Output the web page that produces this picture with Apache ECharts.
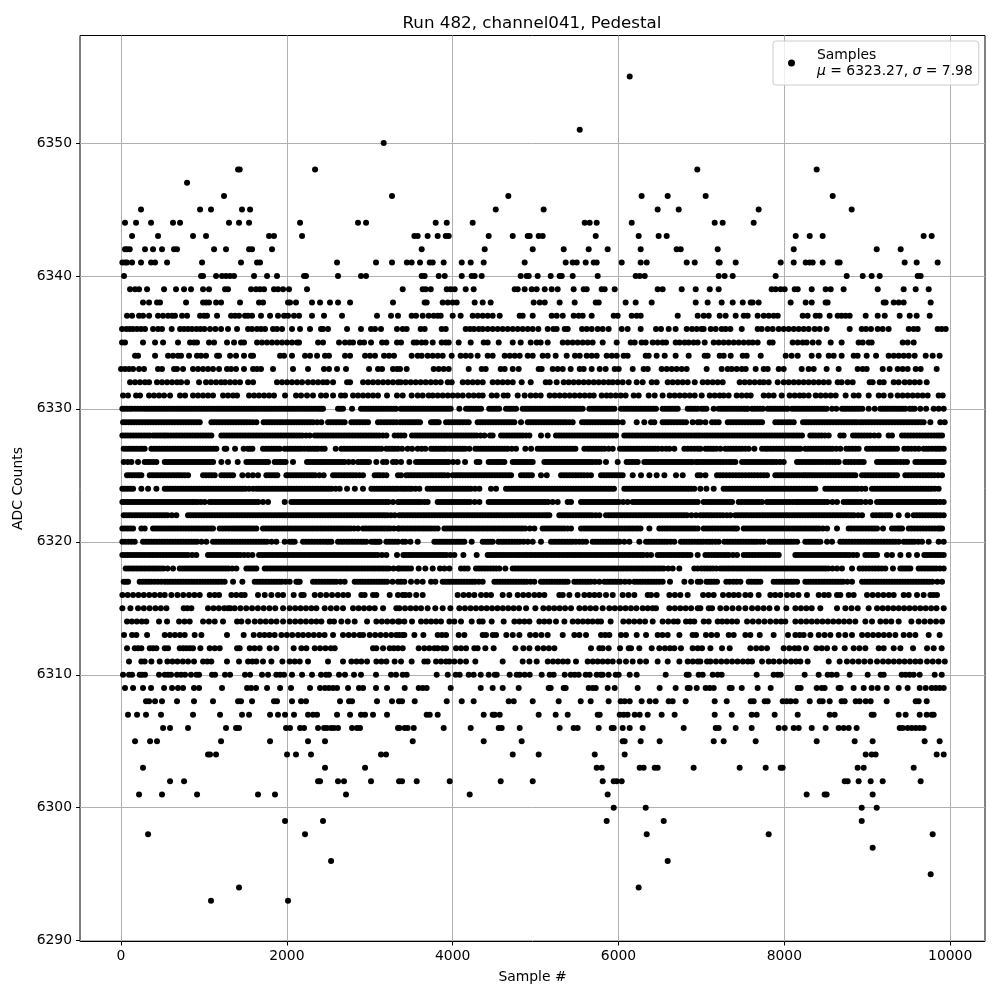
<!DOCTYPE html>
<html><head><meta charset="utf-8">
<style>html,body{margin:0;padding:0;background:#fff}#c{width:1000px;height:1000px}</style>
<script src="https://cdn.jsdelivr.net/npm/echarts@6/dist/echarts.min.js"></script>
</head><body><div id="c"></div>
<script>
const xTicks=[0,2000,4000,6000,8000,10000];
const yTicks=[6290,6300,6310,6320,6330,6340,6350];
const L6355=[6135];
const L6351=[5532];
const L6350=[3168];
const L6348=[1411,1431,2340,6950,8390];
const L6347=[796];
const L6346=[1242,3268,4671,6279,6593,7051,8583];
const L6345=[241,953,1085,1459,1556,4519,5097,6472,6726,7690,8812];
const L6344=[48,181,362,627,712,1302,1423,1544,2159,2858,2955,3795,3928,4241,5592,5652,5737,6159,7160,7256,7630];
const L6343=[133,446,868,1025,1785,1845,2183,3538,3578,3698,3819,3916,3952,4434,4724,4905,4929,5037,5085,5725,6243,6484,6581,8137,8306,8462,9680,9777];
const L6342=[48,72,105,289,386,494,639,675,1122,1266,1544,1580,1821,3626,4386,4965,5339,5640,5869,6267,6701,6750,7196,8113,9114,9403];
const L6341=[16,48,72,133,241,362,410,555,977,1447,1640,1676,2605,3075,3268,3447,3505,3606,3723,3759,3891,4109,4217,4374,4868,5363,5447,5496,5604,5701,5737,6038,6267,6340,6822,6919,7208,7220,7413,7956,8113,8257,8306,8342,8462,8643,8667,9451,9596,9849];
const L6340=[36,965,989,1146,1218,1266,1315,1363,1604,1761,1881,2207,2231,2617,2894,2955,3626,3662,3831,3904,4109,4229,4265,4350,4820,4892,4917,5025,5182,5290,5315,5447,5749,6207,6255,6316,7208,7280,7377,7895,8752,8945,9053,9150,9608,9644];
const L6339=[109,169,217,314,519,663,760,844,989,1061,1254,1290,1568,1628,1676,1725,1845,1893,1954,2026,2243,3397,3638,3674,3735,3928,3976,4024,4157,4253,4748,4784,4868,4953,5013,5110,5194,5266,5459,5580,5616,5797,5833,5954,6472,6532,6762,6931,7100,7208,7847,7895,7956,8004,8125,8161,8330,8498,8559,8715,9126,9439,9584,9741];
const L6338=[265,338,434,470,784,989,1025,1061,1146,1206,1435,1664,1713,2014,2038,2110,2303,2400,2520,2617,2762,3280,3662,3686,3879,3940,4000,4048,4265,4362,4458,4977,5049,5110,5290,5471,5725,5761,6086,6207,6400,6931,7075,7244,7377,7498,7594,7618,7690,8076,8257,8330,8498,8522,9198,9222,9319,9379,9439,9765];
const L6337=[72,133,217,265,338,446,507,567,615,651,736,796,953,1001,1037,1158,1327,1375,1423,1495,1532,1580,1688,1797,1893,1966,2014,2086,2147,2303,2448,2665,3087,3256,3340,3505,3558,3638,3710,3771,3819,3855,4000,4096,4241,4301,4362,4422,4482,4567,4808,4844,4965,5194,5254,5327,5459,5519,5568,5676,5942,5990,6159,6219,6267,6714,6955,7027,7088,7220,7292,7413,7510,7558,7678,7751,7811,7871,7920,8221,8281,8378,8426,8546,8643,8691,8739,8788,8981,9126,9211,9391,9512,9596,9753];
const L6336=[12,64,105,145,193,241,289,386,446,494,611,712,760,808,856,909,957,1005,1073,1138,1206,1290,1399,1532,1580,1640,1688,1737,1833,1881,1942,2062,2159,2279,2412,2436,2496,2726,2894,3015,3063,3135,3328,3397,3445,3614,3662,3867,3916,4157,4209,4257,4314,4362,4422,4482,4543,4603,4663,4724,4784,4844,4905,4965,5033,5146,5214,5254,5351,5387,5560,5616,5676,5749,5809,5881,6038,6110,6267,6452,6512,6605,6689,6822,6886,6943,7000,7027,7112,7172,7244,7292,7349,7486,7678,7727,7799,7859,7932,7992,8052,8113,8173,8233,8293,8366,8426,8510,8788,8933,8985,9045,9126,9186,9258,9500,9560,9608,9849,9897,9946];
const L6335=[12,48,265,410,507,687,832,880,916,1061,1122,1278,1363,1447,1483,1640,1700,1761,1821,1881,1942,2002,2062,2123,2147,2376,2436,2629,2701,2758,2798,2882,2931,3015,3148,3200,3328,3377,3530,3566,3626,3674,3759,3867,3916,3952,4072,4217,4374,4422,4555,4724,4820,4941,5013,5061,5146,5327,5387,5447,5507,5568,5628,5688,5809,5978,6147,6195,6279,6328,6412,6472,6532,6573,6689,6738,6798,6846,6906,6955,7039,7148,7208,7268,7328,7389,7449,7510,7570,7618,7678,7823,7859,8100,8161,8221,8269,8342,8414,8559,8691,8896,8945,9017,9053,9427,9487,9560];
const L6334=[169,205,410,567,627,687,724,820,916,965,1025,1158,1182,1315,1387,1483,1568,1592,1918,1966,2062,2219,2279,2364,2460,2508,2701,2762,2943,3003,3063,3172,3232,3292,3505,3578,3626,3698,3759,3819,3879,3988,4096,4157,4217,4301,4422,4482,4627,4687,4748,4808,4905,4965,5085,5146,5242,5375,5475,5532,5616,5676,5737,5857,5918,5978,6062,6110,6328,6364,6460,6557,6689,6846,7039,7075,7220,7268,7353,7498,7546,7715,8016,8088,8161,8330,8414,8535,8595,8691,8836,8884,8993,9106,9258,9319,9379,9439,9500,9572,9705,9789,9873];
const L6333=[0,48,97,145,217,277,446,494,639,675,748,868,928,989,1049,1109,1182,1278,1327,1387,1483,1592,1640,1688,1833,2074,2255,2448,2508,2605,2713,2991,3099,3148,3280,3328,3365,3445,3771,3831,3891,3952,4193,4350,4398,4579,4627,4724,4796,5037,5073,5206,5266,5327,5423,5532,5580,5676,5773,5845,5954,6002,6171,6303,6352,6520,6581,6641,6701,6762,6822,7063,7244,7316,7365,7425,7486,7534,7654,7751,7799,7932,7992,8209,8293,8354,8510,8655,8884,8945,8993,9186,9270,9367,9427,9487,9584,9644,9837];
const L6332=[109,169,229,289,338,434,494,555,615,675,724,796,941,1025,1085,1146,1206,1254,1315,1375,1435,1532,1592,1881,1942,2002,2062,2123,2183,2255,2315,2376,2436,2484,2557,2726,2762,2919,2979,3039,3099,3160,3220,3280,3340,3373,3433,3494,3554,3614,3674,3735,3795,3855,3940,3988,4121,4181,4241,4301,4362,4482,4543,4603,4663,4724,4832,4941,5122,5170,5254,5339,5399,5459,5519,5580,5640,5701,5761,5821,5881,5930,5990,6050,6123,6219,6291,6400,6460,6593,6653,6714,6774,6834,6919,7015,7075,7136,7196,7256,7461,7522,7582,7642,7703,7751,7811,7920,7992,8052,8113,8173,8233,8293,8354,8414,8474,8535,8643,8691,8763,8824,9029,9065,9150,9198,9319,9379,9451,9512,9572,9632,9717];
const L6331=[24,84,181,229,338,398,458,519,591,712,772,868,928,989,1049,1109,1230,1290,1351,1399,1544,1604,1664,1725,1785,1845,1978,2110,2171,2243,2315,2412,2472,2557,2653,2701,2798,2858,2919,2979,3039,3099,3208,3328,3397,3505,3578,3638,3710,3759,3819,3879,3940,4000,4060,4121,4193,4253,4314,4362,4470,4531,4615,4663,4784,4868,4941,5001,5061,5170,5230,5290,5351,5411,5471,5532,5592,5652,5701,5797,5857,5906,5966,6026,6086,6183,6243,6364,6436,6532,6617,6677,6738,6798,6858,6919,7003,7100,7160,7220,7268,7328,7425,7486,7546,7594,7751,7811,7871,7968,8064,8125,8185,8233,8293,8378,8438,8498,8559,8619,8739,8836,8896,9017,9138,9198,9282,9367,9427,9487,9548,9608,9668,9729,9861,9910];
const L6330=[16,72,133,205,277,338,398,458,519,579,639,700,760,820,881,941,1001,1061,1122,1182,1242,1302,1363,1423,1483,1544,1604,1664,1725,1785,1845,1906,1966,2026,2086,2147,2207,2267,2327,2388,2436,2617,2677,2786,2894,2955,3015,3075,3135,3196,3256,3316,3373,3433,3494,3554,3614,3674,3735,3795,3855,3916,3976,4080,4161,4221,4281,4342,4440,4500,4560,4643,4703,4764,4844,4905,4965,5025,5085,5146,5206,5266,5327,5387,5447,5507,5568,5648,5708,5769,5829,5889,5950,6030,6090,6151,6211,6271,6331,6392,6452,6532,6593,6653,6714,6834,6894,6955,7000,7060,7148,7208,7268,7328,7389,7449,7510,7558,7610,7670,7740,7799,7859,7920,7980,8040,8092,8152,8213,8273,8333,8394,8454,8510,8575,8627,8695,8755,8815,8875,8940,9017,9090,9158,9218,9278,9339,9399,9459,9512,9572,9640,9710,9801,9861,9922];
const L6329=[24,90,155,222,290,355,420,487,552,618,685,750,815,882,949,1090,1155,1222,1288,1352,1418,1485,1552,1632,1720,1788,1852,1920,1985,2050,2118,2182,2250,2315,2416,2497,2565,2630,2697,2778,2845,2912,2979,3099,3172,3245,3320,3367,3430,3490,3550,3606,3739,3785,3831,3920,3990,4058,4125,4193,4301,4365,4430,4493,4556,4620,4682,4744,4824,4905,4970,5035,5102,5168,5235,5300,5368,5447,5560,5625,5690,5755,5820,5885,5950,6050,6219,6311,6392,6432,6532,6600,6670,6742,6814,6894,6955,6987,7048,7128,7208,7317,7385,7455,7525,7595,7663,7731,7891,7965,8040,8113,8225,8290,8358,8422,8488,8552,8620,8685,8750,8815,8876,8916,8985,9055,9125,9195,9265,9335,9405,9472,9540,9610,9680,9761,9881,9934];
const L6328=[16,82,148,214,280,346,386,448,510,567,635,700,765,830,895,960,1025,1089,1210,1275,1340,1405,1470,1535,1600,1665,1730,1795,1860,1925,1990,2055,2120,2185,2275,2336,2400,2465,2530,2595,2660,2725,2790,2855,2920,2985,3050,3115,3200,3300,3340,3377,3417,3510,3575,3640,3705,3770,3835,3900,3965,4030,4095,4160,4225,4290,4382,4450,4482,4583,4650,4715,4780,4845,4925,5065,5146,5246,5310,5375,5440,5505,5570,5635,5700,5765,5830,5895,5970,6070,6135,6200,6265,6330,6395,6460,6525,6590,6655,6720,6785,6850,6915,6975,7040,7105,7170,7235,7300,7365,7430,7495,7560,7625,7690,7755,7820,7885,7950,8015,8080,8145,8213,8313,8380,8450,8535,8675,8715,8828,8895,8965,9035,9138,9258,9298,9419,9490,9560,9630,9700,9770,9840,9902];
const L6327=[32,96,160,225,285,366,430,495,560,625,690,755,820,885,950,1015,1080,1150,1250,1270,1375,1479,1530,1584,1712,1780,1848,1914,1974,2040,2105,2170,2250,2316,2376,2420,2456,2589,2657,2725,2795,2865,2935,3005,3072,3140,3200,3270,3340,3389,3457,3510,3578,3625,3670,3739,3800,3860,3920,3960,4025,4090,4150,4201,4273,4338,4403,4468,4533,4598,4663,4764,4876,4945,5025,5090,5155,5220,5285,5350,5415,5480,5588,5628,5695,5760,5830,5930,6018,6085,6150,6215,6280,6345,6410,6475,6573,6613,6673,6794,6875,6955,6987,7050,7115,7180,7228,7289,7355,7420,7490,7570,7638,7731,7800,7870,7940,8010,8080,8135,8193,8253,8320,8385,8450,8515,8580,8675,8747,8820,8896,8997,9070,9145,9215,9285,9359,9447,9530,9620,9680,9745,9821,9881,9922];
const L6326=[32,80,125,205,285,350,426,527,590,655,720,785,850,915,980,1045,1110,1210,1290,1407,1512,1578,1645,1710,1773,1853,1920,1985,2074,2243,2310,2376,2436,2500,2565,2630,2695,2798,2858,2925,2990,3079,3160,3200,3280,3320,3377,3477,3558,3625,3690,3755,3820,3885,3950,4060,4149,4289,4322,4434,4500,4560,4623,4724,4785,4845,4905,4965,5106,5170,5235,5300,5365,5430,5495,5560,5625,5690,5769,5849,5990,6098,6165,6231,6311,6375,6440,6505,6570,6635,6700,6765,6830,6894,6935,6955,6987,7055,7125,7195,7265,7340,7409,7490,7560,7625,7695,7765,7835,7905,7992,8153,8220,8290,8360,8430,8505,8580,8655,8736,8810,8885,8957,9118,9185,9255,9325,9400,9479,9580,9650,9720,9790,9860,9922];
const L6325=[72,130,190,245,346,410,475,540,605,670,735,808,989,1060,1130,1210,1280,1351,1463,1532,1590,1652,1753,1820,1885,1994,2014,2080,2145,2210,2275,2340,2444,2557,2625,2695,2765,2835,2918,3059,3125,3200,3340,3377,3440,3505,3570,3635,3700,3765,3835,3900,3940,4000,4060,4121,4185,4250,4315,4380,4445,4510,4575,4640,4704,4824,4890,4955,5065,5134,5307,5375,5445,5515,5585,5668,5789,5855,5920,5985,6050,6171,6271,6372,6460,6553,6693,6774,6955,6987,7048,7188,7260,7340,7415,7490,7570,7640,7715,7791,7891,7955,8020,8085,8150,8215,8273,8334,8400,8465,8530,8595,8660,8725,8790,8856,8937,9005,9075,9145,9215,9285,9359,9459,9530,9600,9670,9740,9810,9902];
const L6324=[16,80,145,245,326,426,527,590,655,720,785,850,915,980,1045,1110,1175,1240,1305,1370,1435,1500,1592,1632,1695,1760,1825,1890,1955,2020,2085,2150,2215,2280,2345,2410,2475,2540,2637,2726,2820,2918,3019,3085,3150,3215,3280,3340,3377,3440,3505,3598,3698,3765,3830,3895,3960,4025,4090,4155,4220,4322,4462,4523,4643,4710,4775,4840,4905,4970,5035,5100,5165,5230,5295,5360,5425,5490,5555,5620,5685,5750,5815,5880,5945,6070,6130,6195,6260,6325,6390,6455,6520,6585,6650,6715,6780,6845,6914,6987,7060,7148,7268,7335,7400,7465,7530,7595,7660,7725,7790,7855,7920,7985,8050,8115,8180,8245,8310,8374,8494,8560,8625,8690,8755,8820,8885,8977,9057,9125,9190,9255,9320,9385,9450,9515,9580,9645,9710,9775,9861];
const L6323=[16,80,145,210,275,340,405,470,535,600,665,730,795,860,925,1009,1069,1135,1200,1265,1330,1395,1460,1525,1590,1655,1773,1974,2054,2120,2185,2250,2315,2380,2445,2510,2575,2640,2705,2770,2835,2900,2965,3030,3095,3160,3225,3340,3357,3425,3490,3555,3620,3698,3819,3885,3950,4015,4080,4145,4210,4322,4434,4500,4565,4630,4695,4760,4825,4890,4955,5020,5085,5150,5266,5387,5427,5548,5615,5680,5745,5810,5875,5940,6005,6110,6171,6235,6300,6365,6430,6495,6560,6625,6690,6755,6820,6885,6955,7027,7095,7160,7230,7300,7369,7449,7520,7590,7660,7731,7791,7855,7920,7990,8060,8133,8193,8260,8325,8390,8455,8520,8635,8715,8785,8855,8925,9037,9118,9185,9250,9315,9380,9445,9510,9575,9640,9705,9770,9835,9922];
const L6322=[32,98,165,230,296,362,428,494,560,667,808,873,938,1003,1068,1133,1198,1263,1328,1393,1458,1523,1588,1653,1718,1783,1848,1913,1978,2043,2108,2173,2238,2303,2368,2433,2498,2563,2628,2693,2758,2823,2888,2953,3018,3083,3148,3213,3300,3357,3422,3487,3552,3617,3682,3747,3812,3877,3942,4007,4072,4137,4202,4267,4332,4397,4462,4527,4592,4657,4722,4787,4852,4917,4982,5047,5112,5166,5286,5352,5418,5484,5550,5616,5682,5769,5849,5915,5980,6045,6110,6175,6240,6305,6370,6435,6500,6565,6630,6695,6760,6825,6935,6987,7055,7120,7190,7260,7349,7409,7475,7540,7605,7670,7735,7800,7865,7930,7995,8060,8125,8190,8255,8320,8385,8450,8515,8580,8645,8710,8775,8840,8937,9070,9145,9218,9278,9379,9487,9560,9630,9700,9770,9840,9922];
const L6321=[16,80,145,245,285,386,452,518,584,650,716,782,848,914,980,1046,1109,1190,1260,1330,1391,1451,1510,1570,1632,1712,1778,1844,1910,1976,2042,2108,2174,2240,2306,2372,2438,2504,2570,2636,2702,2768,2858,2919,2985,3050,3115,3180,3245,3340,3357,3422,3487,3552,3617,3682,3747,3819,3900,3965,4030,4095,4160,4225,4290,4355,4420,4485,4550,4615,4680,4745,4810,4875,4985,5085,5150,5215,5280,5345,5427,5548,5615,5680,5745,5810,5875,5940,6005,6070,6135,6200,6265,6372,6492,6558,6624,6690,6756,6822,6888,6955,7027,7095,7165,7235,7305,7375,7429,7510,7575,7640,7705,7770,7835,7900,7965,8030,8095,8160,8225,8290,8355,8420,8515,8635,8776,8845,8915,8985,9055,9118,9190,9298,9365,9419,9500,9570,9640,9710,9780,9850,9902];
const L6320=[16,90,165,265,330,395,460,525,590,655,720,785,850,915,1029,1109,1175,1240,1305,1370,1435,1500,1565,1630,1695,1760,1873,1974,2034,2094,2195,2265,2335,2405,2475,2537,2617,2685,2755,2825,2895,2958,3019,3070,3119,3200,3270,3340,3397,3490,3578,3779,3840,3900,3960,4020,4080,4141,4229,4362,4422,4482,4551,4615,4680,4745,4810,4905,4965,5065,5186,5250,5315,5380,5445,5528,5568,5608,5688,5753,5818,5883,5948,6013,6131,6251,6332,6395,6460,6525,6590,6673,6753,6820,6885,6955,6987,7060,7130,7208,7277,7345,7410,7475,7540,7605,7670,7751,7820,7885,7950,8015,8080,8153,8253,8315,8375,8434,8515,8575,8675,8745,8815,8885,8955,9025,9095,9165,9235,9305,9379,9439,9505,9570,9660,9741,9861,9922];
const L6319=[16,82,148,214,280,346,412,478,544,610,676,742,808,908,1049,1115,1180,1245,1310,1375,1440,1532,1584,1664,1730,1795,1860,1925,1990,2055,2120,2185,2250,2315,2380,2445,2510,2575,2640,2705,2770,2835,2900,2965,3030,3095,3200,3328,3405,3470,3535,3600,3665,3730,3795,3860,3925,4020,4129,4289,4422,4482,4543,4608,4673,4738,4803,4868,4933,4998,5063,5128,5193,5258,5323,5388,5453,5518,5583,5648,5713,5778,5843,5908,5973,6038,6103,6168,6233,6298,6392,6472,6538,6604,6670,6736,6802,6868,6955,7048,7120,7190,7260,7330,7429,7510,7580,7650,7720,7790,7860,7932,8133,8200,8265,8330,8395,8460,8525,8590,8655,8720,8785,8876,8977,9050,9118,9238,9298,9399,9500,9600,9688,9755,9820,9885,9922];
const L6318=[56,120,185,250,315,380,445,510,627,708,775,840,905,970,1035,1100,1165,1230,1295,1391,1512,1572,1632,1733,1800,1865,1930,1995,2060,2125,2190,2255,2320,2385,2450,2515,2580,2645,2710,2775,2840,2905,2970,3035,3100,3165,3230,3340,3357,3425,3497,3590,3670,3759,3847,3900,3960,4100,4181,4281,4350,4420,4490,4563,4635,4724,4790,4855,4920,4985,5050,5115,5180,5245,5310,5375,5440,5505,5570,5635,5700,5765,5830,5895,5960,6025,6090,6155,6220,6285,6350,6415,6480,6545,6653,6733,6914,6955,7000,7070,7140,7228,7295,7360,7425,7490,7555,7620,7685,7750,7815,7880,7945,8010,8075,8140,8205,8270,8335,8400,8465,8530,8635,8695,8816,8908,8985,9060,9135,9218,9310,9399,9460,9520,9620,9690,9760,9830,9922];
const L6317=[32,85,225,295,365,446,527,592,657,722,787,852,917,982,1047,1112,1177,1250,1351,1463,1612,1680,1745,1810,1875,1940,2034,2114,2155,2315,2385,2455,2525,2595,2697,2818,2885,2950,3015,3080,3145,3210,3340,3377,3417,3497,3570,3638,3739,3791,3879,3945,4010,4075,4140,4205,4270,4362,4503,4570,4635,4700,4765,4830,4895,4985,5065,5130,5195,5260,5325,5387,5467,5535,5600,5665,5769,5829,5895,5960,6025,6131,6191,6258,6325,6392,6459,6533,6621,6794,6875,6955,6987,7060,7120,7188,7300,7385,7470,7570,7640,7711,7871,7940,8010,8080,8153,8253,8320,8385,8450,8515,8580,8645,8710,8816,8937,9005,9070,9135,9200,9265,9330,9395,9460,9525,9590,9655,9720,9785,9902];
const L6316=[16,80,145,210,275,340,405,470,527,607,680,750,820,885,949,1069,1130,1182,1331,1390,1450,1491,1652,1733,1813,1893,1954,2082,2175,2203,2336,2405,2475,2545,2615,2680,2738,2898,2938,3039,3079,3240,3340,3397,3429,3478,3560,3638,4060,4130,4195,4261,4342,4405,4462,4603,4683,4784,4850,4915,4985,5045,5106,5286,5327,5407,5507,5588,5650,5710,5769,5849,5930,6050,6120,6191,6352,6392,6460,6613,6680,6745,6834,7020,7085,7148,7260,7330,7390,7449,7530,7590,7690,7831,7890,7952,8032,8100,8170,8273,8414,8480,8535,8635,8675,8776,8836,8997,9065,9130,9195,9260,9319,9439,9500,9600,9680,9761,9800,9841];
const L6315=[16,113,205,275,345,415,480,547,756,800,848,1049,1115,1180,1245,1290,1319,1371,1440,1510,1580,1650,1720,1790,1860,1954,2034,2100,2165,2230,2295,2356,2456,2530,2600,2677,2798,2865,2930,2995,3060,3160,3320,3357,3425,3490,3555,3618,3698,3790,3879,3972,4080,4148,4215,4280,4345,4410,4475,4540,4605,4670,4735,4800,4885,4997,5093,5160,5225,5290,5355,5427,5528,5595,5660,5725,5809,5889,5955,6020,6085,6150,6215,6291,6352,6411,6452,6613,6680,6745,6810,6875,6955,6987,7088,7128,7228,7300,7375,7450,7530,7610,7680,7750,7820,7912,8024,8133,8200,8265,8330,8434,8635,8736,8810,8885,9017,9118,9185,9250,9315,9380,9445,9510,9575,9640,9705,9770,9835,9922];
const L6314=[72,130,190,250,305,458,555,700,765,828,989,1060,1130,1230,1399,1451,1532,1612,1680,1745,1810,1875,1954,2034,2100,2165,2230,2295,2356,2416,2517,2569,2657,2735,2818,2967,3079,3145,3210,3275,3340,3357,3417,3509,3618,3680,3740,3800,3859,3960,4020,4100,4229,4322,4362,4470,4615,4744,4805,4865,4925,5045,5105,5165,5246,5347,5447,5510,5570,5630,5688,5749,5789,5905,6058,6125,6190,6255,6320,6412,6532,6600,6665,6714,6814,6865,6914,7027,7088,7196,7250,7308,7369,7429,7550,7620,7690,7760,7830,7900,7960,8012,8133,8200,8265,8330,8395,8460,8525,8590,8655,8720,8785,8856,8977,9057,9158,9225,9290,9379,9532,9620,9690,9760,9830,9902];
const L6313=[36,133,185,314,527,590,650,710,768,888,969,1278,1479,1600,1672,1730,1790,1853,1934,2000,2065,2135,2195,2260,2325,2390,2455,2557,2677,2745,2810,2878,2919,2999,3065,3130,3195,3260,3320,3357,3397,3417,3538,3646,3819,3870,3920,4072,4141,4362,4402,4483,4523,4647,4724,4804,4933,5000,5070,5146,5327,5467,5528,5608,5789,5840,5889,6030,6090,6219,6332,6472,6530,6593,6734,6894,6935,7054,7120,7188,7329,7389,7530,7590,7703,7871,8044,8133,8185,8233,8314,8414,8485,8555,8655,8735,8816,8937,9005,9070,9135,9200,9265,9339,9439,9510,9580,9741,9873];
const L6312=[72,165,205,245,346,385,426,527,567,708,750,790,830,868,957,1069,1130,1190,1399,1431,1552,1610,1672,1793,1873,2082,2175,2235,2336,2400,2465,2530,2577,3039,3079,3160,3240,3290,3340,3397,3590,3658,3719,3780,3819,3879,3920,4040,4100,4161,4261,4301,4394,4494,4756,4852,4925,5025,5095,5160,5226,5668,5769,5809,5881,6018,6123,6151,6251,6400,6492,6560,6620,6673,6753,6894,6955,7007,7108,7248,7341,7590,7660,7725,7791,7992,8060,8125,8173,8261,8386,8450,8515,8607,8728,8836,8905,8977,9138,9198,9319,9399,9552,9721,9801,9897];
const L6311=[96,245,285,366,466,559,620,680,745,808,880,989,1040,1089,1278,1423,1532,1585,1632,1712,1813,1946,2034,2095,2155,2255,2496,2677,2778,2840,2898,2967,3079,3140,3200,3300,3377,3505,3658,3698,3799,3860,3920,3960,4020,4090,4161,4273,4603,4844,4925,5013,5146,5210,5270,5330,5387,5487,5628,5690,5749,5809,5870,5930,6010,6090,6171,6259,6332,6472,6593,6734,6834,6895,6955,6987,7067,7108,7175,7240,7305,7370,7435,7500,7560,7610,7731,7811,7871,7940,8010,8080,8140,8193,8281,8535,8667,8755,8825,8895,8965,9037,9118,9190,9255,9320,9385,9450,9515,9580,9640,9721,9790,9860,9935];
const L6310=[24,97,133,225,253,289,458,527,567,603,675,724,772,844,909,941,1097,1134,1254,1315,1495,1556,1700,1773,1873,1918,1966,2062,2183,2303,2412,2472,2508,2629,2701,2810,2894,3075,3256,3316,3397,3445,3807,3940,4036,4084,4193,4253,4338,4434,4507,4531,4687,4772,4808,4868,4929,5073,5170,5218,5351,5423,5471,5520,5604,5652,5737,5785,5809,5881,5966,6002,6135,6219,6569,6822,6846,6967,7015,7136,7196,7244,7666,7871,7920,7956,8245,8414,8523,8571,8631,8788,9005,9162,9198,9415,9463,9512,9560,9632,9813,9898];
const L6309=[48,145,265,362,519,615,687,748,880,941,1218,1520,1568,1628,1761,1918,2050,2279,2400,2460,2508,2557,2605,2738,2870,2919,3075,3208,3421,3590,3638,3686,3976,4338,4482,4603,4796,5158,5182,5339,5363,5640,5688,5725,5869,5954,6231,6496,6689,6834,6858,6943,7051,7099,7148,7341,7365,7486,7678,7835,8161,8197,8390,8450,8486,8655,8679,8836,8957,9053,9126,9234,9379,9487,9632,9705,9777,9825,9873,9922];
const L6308=[301,338,410,494,675,880,1109,1411,1447,1580,1845,1881,2062,2171,2231,2641,2750,2786,3087,3268,3352,3389,3542,3928,4109,4253,4675,4736,4965,5278,5544,5664,5881,6026,6074,6135,6279,6376,6448,6605,6653,6810,7160,7305,7594,7630,7763,7799,7980,8028,8076,8137,8306,8426,8462,8547,8691,8728,8860,8908,8981,9041,9234,9584,9620,9717];
const L6307=[84,193,301,482,868,1194,1459,1544,1797,1893,1978,2086,2255,2315,2364,2605,2762,2894,2943,3039,3208,3686,3723,3819,4374,4482,4507,4567,5037,5242,5387,5749,5773,6014,6062,6110,6195,6255,6352,6520,6677,7160,7365,7606,7666,7883,8161,8547,8607,9053,9077,9379,9463,9632,9717,9777,9801];
const L6306=[507,591,808,1266,1387,1423,1990,2038,2159,2207,2376,2448,2484,2533,2569,2617,2786,2846,2882,3340,3357,3421,3457,3530,3891,4217,4555,4591,4808,5290,5459,5507,5761,5918,5942,6050,6135,6291,6786,7172,7208,7413,7606,7932,8004,8113,8173,8330,8498,8655,8716,8776,8872,9391,9427,9487,9536,9584,9632,9680];
const L6305=[169,350,434,1206,1797,2255,2460,3518,4374,4832,6050,6074,6267,6496,7148,7268,7654,8390,8848,9065,9692,9873];
const L6304=[1049,1073,1146,2002,2110,2291,3135,3196,4724,5037,5713,6074,8981,9053,9101,9837,9922];
const L6303=[265,2460,2943,5737,5797,6255,6303,6436,6472,6906,7461,7775,7956,7980,8884,8957,9560];
const L6302=[591,760,2376,2400,2617,2689,3015,3353,3389,3566,3964,4579,4965,5809,5942,5978,6038,8728,8764,8896,9041,9186,9644];
const L6301=[217,494,917,1652,1857,2713,4205,5869,8269,8486,8510,9065];
const L6300=[5942,6328,8933,9114];
const L6299=[1978,2436,5857,6545,8933];
const L6298=[326,2219,6340,7811,9789];
const L6297=[9065];
const L6296=[2533,6593];
const L6295=[9765];
const L6294=[1423,6243];
const L6293=[1085,2014];
/* further samples read inside the solid runs of the dense rows */
const M6330=[44,103,170,240,308,368,428,488,549,609,670,730,790,850,911,971,1031,1091,1152,1212,1272,1332,1393,1453,1513,1574,1634,1694,1755,1815,1875,1936,1996,2056,2116,2177,2237,2297,2358,2412,2647,2925,2985,3045,3105,3165,3226,3286,3403,3463,3524,3584,3644,3704,3765,3825,3885,3946,4191,4251,4311,4470,4530,4673,4733,4875,4935,4995,5055,5115,5176,5236,5296,5357,5417,5477,5537,5678,5738,5799,5859,5919,6060,6120,6181,6241,6301,6361,6422,6562,6623,6683,6864,6925,7030,7238,7298,7358,7419,7479,7534,7640,7705,7829,7889,7950,8010,8122,8182,8243,8303,8363,8424,8482,8725,8785,8845,8905,9188,9248,9308,9369,9429,9542];
const M6329=[57,122,188,256,322,387,453,520,585,651,717,782,848,915,1122,1188,1255,1320,1385,1451,1518,1590,1754,1820,1886,1952,2017,2084,2150,2216,2282,2365,2531,2597,2663,2811,2878,2945,3135,3208,3282,3398,3460,3520,3578,3762,3808,3955,4024,4091,4159,4333,4397,4461,4524,4588,4651,4713,4937,5002,5068,5135,5201,5267,5334,5407,5592,5657,5722,5787,5852,5917,5990,6566,6635,6706,6778,7168,7351,7420,7490,7560,7629,7697,7928,8002,8076,8257,8324,8390,8455,8520,8586,8652,8717,8782,8846,8950,9020,9090,9160,9230,9300,9370,9438,9506,9575,9645];
const M6328=[49,115,181,247,313,417,479,538,601,667,732,797,862,927,992,1057,1242,1307,1372,1437,1502,1567,1632,1697,1762,1827,1892,1957,2022,2087,2152,2230,2368,2432,2497,2562,2627,2692,2757,2822,2887,2952,3017,3082,3157,3542,3607,3672,3737,3802,3867,3932,3997,4062,4127,4192,4257,4336,4616,4682,4747,4812,4885,5278,5342,5407,5472,5537,5602,5667,5732,5797,5862,5932,6102,6167,6232,6297,6362,6427,6492,6557,6622,6687,6752,6817,6882,6945,7007,7072,7137,7202,7267,7332,7397,7462,7527,7592,7657,7722,7787,7852,7917,7982,8047,8112,8178,8346,8415,8490,8861,8930,9000,9085,9454,9525,9595,9665,9735,9805,9870];
const M6327=[64,128,192,255,398,462,527,592,657,722,787,852,917,982,1047,1115,1555,1746,1814,1880,2007,2072,2137,2210,2283,2346,2691,2760,2830,2900,2970,3038,3106,3235,3305,3770,3830,3890,3992,4057,4120,4305,4370,4435,4500,4565,4630,4713,5057,5122,5187,5252,5317,5382,5447,5661,5727,5795,5880,6051,6117,6182,6247,6312,6377,6442,6524,6834,6915,7082,7147,7322,7387,7455,7530,7769,7835,7905,7975,8045,8107,8164,8286,8352,8417,8482,8547,8627,8783,8858,9033,9107,9180,9250,9322,9488,9575,9712,9783,9851];
const M6326=[318,388,558,622,687,752,817,882,947,1012,1077,1544,1611,1677,1741,1886,1952,2276,2343,2406,2468,2532,2597,2662,2745,2891,2957,3591,3657,3722,3787,3852,3917,4005,4467,4530,4591,4754,4815,4875,4935,5138,5202,5267,5332,5397,5462,5527,5592,5657,5729,6131,6198,6343,6407,6472,6537,6602,6667,6732,6797,6862,7021,7090,7160,7230,7302,7374,7525,7592,7660,7730,7800,7870,7948,8186,8255,8325,8395,8467,8542,8617,8772,8847,8921,9151,9220,9290,9362,9440,9615,9685,9755,9825,9891];
const M6325=[101,160,217,378,442,507,572,637,702,771,1025,1095,1245,1315,1786,1852,2047,2112,2177,2242,2307,2392,2591,2660,2730,2800,2876,3092,3162,3472,3537,3602,3667,3732,3800,3867,4030,4090,4153,4217,4282,4347,4412,4477,4542,4607,4672,4857,4922,5341,5410,5480,5550,5626,5822,5887,5952,6017,7224,7300,7377,7452,7530,7605,7677,7753,7923,7987,8052,8117,8182,8244,8303,8367,8432,8497,8562,8627,8692,8757,8823,8971,9040,9110,9180,9250,9322,9494,9565,9635,9705,9775,9855];
const M6324=[48,112,558,622,687,752,817,882,947,1012,1077,1142,1207,1272,1337,1402,1467,1545,1663,1727,1792,1857,1922,1987,2052,2117,2182,2247,2312,2377,2442,2507,2588,3052,3117,3182,3247,3310,3408,3472,3550,3731,3797,3862,3927,3992,4057,4122,4187,4270,4676,4742,4807,4872,4937,5002,5067,5132,5197,5262,5327,5392,5457,5522,5587,5652,5717,5782,5847,5912,6100,6162,6227,6292,6357,6422,6487,6552,6617,6682,6747,6812,6878,7300,7367,7432,7497,7562,7627,7692,7757,7822,7887,7952,8017,8082,8147,8212,8277,8342,8527,8592,8657,8722,8787,8852,8930,9090,9157,9222,9287,9352,9417,9482,9547,9612,9677,9742,9815];
const M6323=[48,112,177,242,307,372,437,502,567,632,697,762,827,892,965,1101,1167,1232,1297,1362,1427,1492,1557,1622,1712,2087,2152,2217,2282,2347,2412,2477,2542,2607,2672,2737,2802,2867,2932,2997,3062,3127,3192,3280,3391,3457,3522,3587,3660,3852,3917,3982,4047,4112,4177,4265,4467,4532,4597,4662,4727,4792,4857,4922,4987,5052,5117,5205,5582,5647,5712,5777,5842,5907,5972,6057,6203,6267,6332,6397,6462,6527,6592,6657,6722,6787,6852,6920,7061,7127,7195,7265,7335,7485,7555,7625,7695,7823,7887,7955,8025,8097,8163,8227,8292,8357,8422,8487,8580,8750,8820,8890,8980,9152,9217,9282,9347,9412,9477,9542,9607,9672,9737,9802,9878];
const M6322=[65,131,197,263,329,395,461,527,612,840,905,970,1035,1100,1165,1230,1295,1360,1425,1490,1555,1620,1685,1750,1815,1880,1945,2010,2075,2140,2205,2270,2335,2400,2465,2530,2595,2660,2725,2790,2855,2920,2985,3050,3115,3180,3255,3390,3455,3520,3585,3650,3715,3780,3845,3910,3975,4040,4105,4170,4235,4300,4365,4430,4495,4560,4625,4690,4755,4820,4885,4950,5015,5080,5140,5319,5385,5451,5517,5583,5649,5725,5882,5947,6012,6077,6142,6207,6272,6337,6402,6467,6532,6597,6662,6727,6792,6880,7020,7087,7155,7225,7305,7442,7507,7572,7637,7702,7767,7832,7897,7962,8027,8092,8157,8222,8287,8352,8417,8482,8547,8612,8677,8742,8807,8890,9107,9180,9248,9595,9665,9735,9805,9880];
const M6321=[48,112,418,485,551,617,683,749,815,881,947,1013,1078,1225,1295,1360,1421,1480,1540,1600,1745,1811,1877,1943,2009,2075,2141,2207,2273,2339,2405,2471,2537,2603,2669,2735,2810,2952,3017,3082,3147,3212,3290,3390,3455,3520,3585,3650,3715,3783,3932,3997,4062,4127,4192,4257,4322,4387,4452,4517,4582,4647,4712,4777,4842,4930,5118,5182,5247,5312,5385,5582,5647,5712,5777,5842,5907,5972,6037,6102,6167,6232,6525,6591,6657,6723,6789,6855,6920,7061,7130,7200,7270,7340,7402,7542,7607,7672,7737,7802,7867,7932,7997,8062,8127,8192,8257,8322,8387,8465,8810,8880,8950,9020,9085,9332,9392,9535,9605,9675,9745,9815,9876];
const M6320=[53,128,298,362,427,492,557,622,687,752,817,882,970,1142,1207,1272,1337,1402,1467,1532,1597,1662,1727,1815,2064,2230,2300,2370,2440,2505,2651,2720,2790,2860,2926,3050,3095,3235,3305,3430,3809,3870,3930,3990,4050,4111,4392,4452,4583,4647,4712,4777,4855,5218,5282,5347,5412,5485,5720,5785,5850,5915,5980,6070,6363,6427,6492,6557,6630,6787,6852,6920,7022,7095,7170,7311,7377,7442,7507,7572,7637,7710,7852,7917,7982,8047,8115,8284,8345,8405,8710,8780,8850,8920,8990,9060,9130,9200,9270,9340,9472,9537,9615];
const M6319=[49,115,181,247,313,379,445,511,577,643,709,775,858,1082,1147,1212,1277,1342,1407,1485,1697,1762,1827,1892,1957,2022,2087,2152,2217,2282,2347,2412,2477,2542,2607,2672,2737,2802,2867,2932,2997,3062,3147,3437,3502,3567,3632,3697,3762,3827,3892,3972,4452,4512,4575,4640,4705,4770,4835,4900,4965,5030,5095,5160,5225,5290,5355,5420,5485,5550,5615,5680,5745,5810,5875,5940,6005,6070,6135,6200,6265,6345,6505,6571,6637,6703,6769,6835,7084,7155,7225,7295,7380,7545,7615,7685,7755,7825,7895,8166,8232,8297,8362,8427,8492,8557,8622,8687,8752,8830,9013,9084,9721,9787,9852];
const M6318=[88,152,217,282,347,412,477,560,741,807,872,937,1002,1067,1132,1197,1262,1340,1542,1602,1766,1832,1897,1962,2027,2092,2157,2222,2287,2352,2417,2482,2547,2612,2677,2742,2807,2872,2937,3002,3067,3132,3197,3285,3391,3460,4140,4315,4385,4455,4526,4757,4822,4887,4952,5017,5082,5147,5212,5277,5342,5407,5472,5537,5602,5667,5732,5797,5862,5927,5992,6057,6122,6187,6252,6317,6382,6447,6512,6600,7035,7105,7180,7261,7327,7392,7457,7522,7587,7652,7717,7782,7847,7912,7977,8042,8107,8172,8237,8302,8367,8432,8497,8580,8946,9022,9097,9175,9430,9490,9655,9725,9795,9875];
const M6317=[58,260,330,405,486,559,624,689,754,819,884,949,1014,1079,1144,1212,1646,1712,1777,1842,1907,1985,2134,2350,2420,2490,2560,2645,2851,2917,2982,3047,3112,3177,3275,3912,3977,4042,4107,4172,4237,4315,4536,4602,4667,4732,4797,4862,4940,5097,5162,5227,5292,5355,5500,5567,5632,5712,5862,5927,5992,6078,6224,6291,6358,6425,6495,7090,7154,7340,7425,7605,7675,7905,7975,8045,8115,8286,8352,8417,8482,8547,8612,8677,8760,8971,9037,9102,9167,9232,9297,9362,9427,9492,9557,9622,9687,9750,9845];
const rows=[[6355,L6355],[6351,L6351],[6350,L6350],[6348,L6348],[6347,L6347],[6346,L6346],[6345,L6345],[6344,L6344],[6343,L6343],[6342,L6342],[6341,L6341],[6340,L6340],[6339,L6339],[6338,L6338],[6337,L6337],[6336,L6336],[6335,L6335],[6334,L6334],[6333,L6333],[6332,L6332],[6331,L6331],[6330,L6330],[6330,M6330],[6329,L6329],[6329,M6329],[6328,L6328],[6328,M6328],[6327,L6327],[6327,M6327],[6326,L6326],[6326,M6326],[6325,L6325],[6325,M6325],[6324,L6324],[6324,M6324],[6323,L6323],[6323,M6323],[6322,L6322],[6322,M6322],[6321,L6321],[6321,M6321],[6320,L6320],[6320,M6320],[6319,L6319],[6319,M6319],[6318,L6318],[6318,M6318],[6317,L6317],[6317,M6317],[6316,L6316],[6315,L6315],[6314,L6314],[6313,L6313],[6312,L6312],[6311,L6311],[6310,L6310],[6309,L6309],[6308,L6308],[6307,L6307],[6306,L6306],[6305,L6305],[6304,L6304],[6303,L6303],[6302,L6302],[6301,L6301],[6300,L6300],[6299,L6299],[6298,L6298],[6297,L6297],[6296,L6296],[6295,L6295],[6294,L6294],[6293,L6293]];
const points=[];
rows.forEach(([v,xs])=>xs.forEach(x=>points.push([x,v])));
const FONT='"DejaVu Sans"';
const plain=v=>String(v);
const chart=echarts.init(document.getElementById('c'),null,{renderer:'canvas'});
chart.setOption({
  animation:false,
  backgroundColor:'#fff',
  title:{text:'Run 482, channel041, Pedestal',left:527,top:10,textAlign:'center',
    textStyle:{fontFamily:FONT,fontWeight:'normal',fontSize:16.7,color:'#000'}},
  grid:{left:80,right:15,top:35.5,bottom:58.5,show:true,borderColor:'#000',borderWidth:1,backgroundColor:'transparent'},
  xAxis:{type:'value',min:-495,max:10420,name:'Sample #',nameLocation:'middle',nameGap:29,
    nameTextStyle:{fontFamily:FONT,fontSize:13.9,color:'#000'},
    axisLine:{show:false,onZero:false},
    axisTick:{show:true,length:4,inside:false,lineStyle:{color:'#000',width:1},customValues:xTicks},
    axisLabel:{fontFamily:FONT,fontSize:13.9,color:'#000',margin:8,customValues:xTicks,formatter:plain},
    splitLine:{show:true,lineStyle:{color:'#b0b0b0',width:1}}},
  yAxis:{type:'value',min:6289.94,max:6358.08,name:'ADC Counts',nameLocation:'middle',nameGap:49,
    nameTextStyle:{fontFamily:FONT,fontSize:13.9,color:'#000'},
    axisLine:{show:false,onZero:false},
    axisTick:{show:true,length:4,inside:false,lineStyle:{color:'#000',width:1},customValues:yTicks},
    axisLabel:{fontFamily:FONT,fontSize:13.9,color:'#000',margin:8,customValues:yTicks,formatter:plain},
    splitLine:{show:true,lineStyle:{color:'#b0b0b0',width:1}}},
  legend:{show:true,left:773,top:41,orient:'vertical',padding:[6,6,6,15],
    backgroundColor:'rgba(255,255,255,0.8)',borderColor:'#ccc',borderWidth:1,borderRadius:3,
    itemWidth:7,itemHeight:7,icon:'circle',
    data:['Samples'],
    formatter:()=>'Samples\n{i|μ} = 6323.27, {i|σ} = 7.98',
    textStyle:{fontFamily:FONT,fontSize:13.9,color:'#000',lineHeight:16,padding:[0,0,0,17],
      rich:{i:{fontStyle:'italic',fontFamily:FONT,fontSize:13.9,color:'#000',lineHeight:16}}}},
  series:[{name:'Samples',type:'scatter',data:points,symbol:'circle',symbolSize:6,
    itemStyle:{color:'#000',opacity:1},silent:true,z:3,clip:true}]
});
</script></body></html>
